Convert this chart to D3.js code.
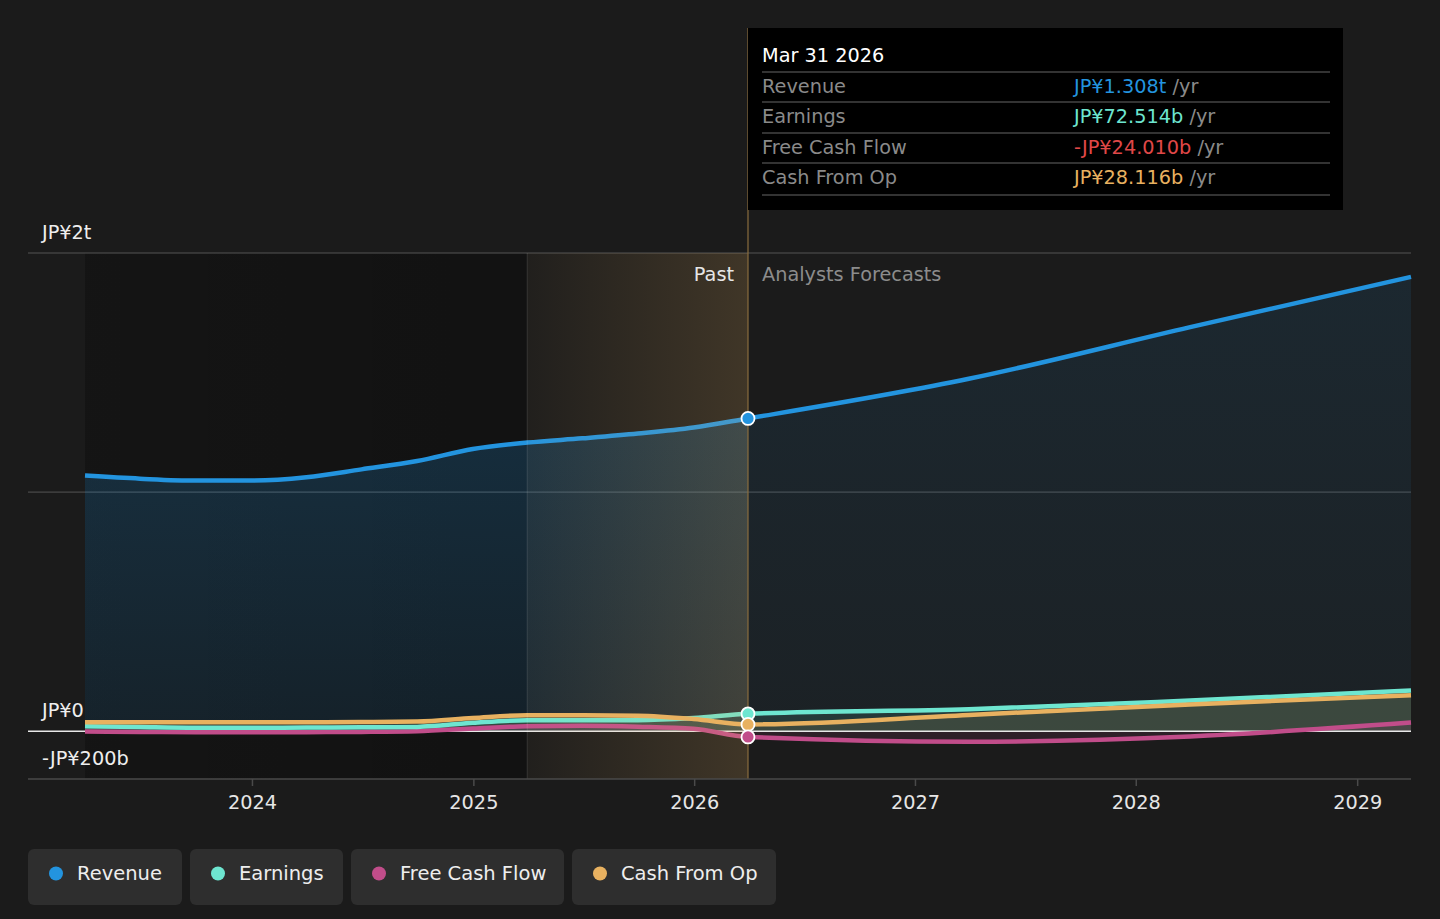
<!DOCTYPE html>
<html><head><meta charset="utf-8">
<script src="https://cdn.jsdelivr.net/npm/d3@7/dist/d3.min.js"></script>
<style>
html,body{margin:0;padding:0;background:#1b1b1b;}
svg{display:block;font-family:"DejaVu Sans",sans-serif;}
</style></head>
<body>
<svg id="chart" width="1440" height="919"></svg>
<script>
// ---- data ----
const dates = ["2023-03-31","2023-06-30","2023-09-30","2023-12-31","2024-03-31","2024-06-30","2024-09-30","2024-12-31","2025-03-31","2025-06-30","2025-09-30","2025-12-31","2026-03-31","2027-03-31","2028-03-31","2029-03-31"];
const revenue  = [1.069e12,1.056e12,1.048e12,1.048e12,1.062e12,1.095e12,1.13e12,1.18e12,1.207e12,1.225e12,1.245e12,1.27e12,1.308e12,1.474e12,1.69e12,1.90e12];
const earnings = [21e9,17e9,14e9,14e9,15e9,16e9,18e9,35e9,46e9,46e9,46e9,55e9,72.514e9,92e9,128e9,170e9];
const freeCashFlow = [-1e9,-3e9,-4e9,-4e9,-4e9,-3e9,0,11e9,21e9,23e9,19e9,10e9,-24.01e9,-44e9,-22e9,36e9];
const cashFromOp = [37e9,37e9,37e9,37e9,37e9,38e9,40e9,55e9,67e9,67e9,65e9,51e9,28.116e9,68e9,112e9,150e9];
const seriesNames = ["Revenue","Earnings","Free Cash Flow","Cash From Op"];
const seriesColors = ["#2394df","#6ee6d0","#c14d8a","#e8b160"];
const yTickValues = [-200e9, 0, 2e12];
const yTickLabels = ["-JP¥200b","JP¥0","JP¥2t"];
const xTickYears = [2024,2025,2026,2027,2028,2029];
const tooltipDate = "Mar 31 2026";
const tooltipValues = ["JP¥1.308t","JP¥72.514b","-JP¥24.010b","JP¥28.116b"];
const tooltipValueColors = ["#2394df","#6ee6d0","#e04848","#e8b160"];
const pastStart = "2025-03-31";
const nowDate = "2026-03-31";

// ---- setup ----
const parse = d3.timeParse("%Y-%m-%d");
const D = dates.map(parse);
const svg = d3.select("#chart");
const W = 1440, H = 919;
const pL = 28, pR = 1411, pT = 253, pB = 779;
const FS = 19.3;

const x = d3.scaleTime().domain([D[0], D[D.length-1]]).range([85, 1411]);
const y = d3.scaleLinear().domain([-200e9, 2e12]).range([779, 253]);
const xNow = x(parse(nowDate)), xPast = x(parse(pastStart));
const nowIdx = dates.indexOf(nowDate);

const defs = svg.append("defs");
function vgrad(id, stops, y1, y2){
  const g = defs.append("linearGradient").attr("id", id).attr("gradientUnits","userSpaceOnUse")
    .attr("x1",0).attr("x2",0).attr("y1",y1).attr("y2",y2);
  stops.forEach(s=>g.append("stop").attr("offset",s[0]).attr("stop-color",s[1]).attr("stop-opacity",s[2]));
}
vgrad("revPast", [[0,"#2394df",0.27],[1,"#2394df",0.11]], pT, y(0));
vgrad("revFut", [[0,"#2394df",0.11],[1,"#2394df",0.05]], pT, y(0));
const hg = defs.append("linearGradient").attr("id","hl").attr("x1",0).attr("x2",1).attr("y1",0).attr("y2",0);
hg.append("stop").attr("offset",0).attr("stop-color","#e8b160").attr("stop-opacity",0.03);
hg.append("stop").attr("offset",1).attr("stop-color","#e8b160").attr("stop-opacity",0.18);
const dg = defs.append("linearGradient").attr("id","darkp").attr("x1",0).attr("x2",1).attr("y1",0).attr("y2",0);
dg.append("stop").attr("offset",0).attr("stop-color","#000").attr("stop-opacity",0.25);
dg.append("stop").attr("offset",1).attr("stop-color","#000").attr("stop-opacity",0.35);
defs.append("clipPath").attr("id","clipPast").append("rect").attr("x",0).attr("y",0).attr("width",xNow).attr("height",H);
defs.append("clipPath").attr("id","clipFut").append("rect").attr("x",xNow).attr("y",0).attr("width",W-xNow).attr("height",H);

svg.append("rect").attr("width",W).attr("height",H).attr("fill","#1b1b1b");
// past dark region
svg.append("rect").attr("x",x(D[0])).attr("y",pT).attr("width",xPast-x(D[0])).attr("height",pB-pT).attr("fill","url(#darkp)");

// gridlines
[1e12, 2e12].forEach(v=>{
  svg.append("line").attr("x1",pL).attr("x2",pR).attr("y1",y(v)).attr("y2",y(v))
    .attr("stroke","#555").attr("stroke-width",1);
});

const allSeries = [revenue, earnings, freeCashFlow, cashFromOp];
const curve = d3.curveMonotoneX;

// revenue area
const revArea = d3.area().x((d,i)=>x(D[i])).y0(y(0)).y1(d=>y(d)).curve(curve);
svg.append("path").datum(revenue).attr("d",revArea).attr("fill","url(#revPast)").attr("clip-path","url(#clipPast)");
svg.append("path").datum(revenue).attr("d",revArea).attr("fill","url(#revFut)").attr("clip-path","url(#clipFut)");

// small series areas
[1,3,2].forEach(k=>{
  const a = d3.area().x((d,i)=>x(D[i])).y0(y(0)).y1(d=>y(d)).curve(curve);
  svg.append("path").datum(allSeries[k]).attr("d",a).attr("fill",seriesColors[k]).attr("fill-opacity",0.12);
});

// zero line
svg.append("line").attr("x1",pL).attr("x2",pR).attr("y1",y(0)).attr("y2",y(0))
  .attr("stroke","#e8e8e8").attr("stroke-width",1.5);

// lines
const drawOrder = [2,1,3,0];
drawOrder.forEach(k=>{
  const l = d3.line().x((d,i)=>x(D[i])).y(d=>y(d)).curve(curve);
  svg.append("path").datum(allSeries[k]).attr("d",l).attr("fill","none")
    .attr("stroke",seriesColors[k]).attr("stroke-width",4.5).attr("stroke-linecap","butt");
});

// past highlight overlay
svg.append("rect").attr("x",xPast).attr("y",pT).attr("width",xNow-xPast).attr("height",pB-pT).attr("fill","url(#hl)");
svg.append("line").attr("x1",xPast).attr("x2",xPast).attr("y1",pT).attr("y2",pB).attr("stroke","#fff").attr("stroke-opacity",0.12);
svg.append("line").attr("x1",xNow).attr("x2",xNow).attr("y1",28).attr("y2",pB).attr("stroke","#8a6d3e").attr("stroke-width",1.2);

// bottom axis
const xAxis = d3.axisBottom(x).tickValues(xTickYears.map(yr=>new Date(yr,0,1))).tickFormat(d3.timeFormat("%Y")).tickSize(7).tickSizeOuter(0);
const ax = svg.append("g").attr("transform",`translate(0,${pB})`).call(xAxis);
ax.select(".domain").remove();
svg.append("line").attr("x1",pL).attr("x2",pR).attr("y1",pB).attr("y2",pB).attr("stroke","#4a4a4a").attr("stroke-width",1.5);
ax.selectAll(".tick line").attr("stroke","#4a4a4a").attr("stroke-width",1.5);
ax.selectAll(".tick text").attr("fill","#e6e6e6").attr("font-size",FS).attr("dy","1.05em").attr("font-family","DejaVu Sans");

// y labels
yTickValues.forEach((v,i)=>{
  svg.append("text").attr("x",42).attr("y",y(v)-14).text(yTickLabels[i])
    .attr("fill","#eeeeee").attr("font-size",FS);
});

// Past / Forecast labels
svg.append("text").attr("x",xNow-14).attr("y",281).attr("text-anchor","end").text("Past").attr("fill","#e6e6e6").attr("font-size",FS);
svg.append("text").attr("x",xNow+14).attr("y",281).text("Analysts Forecasts").attr("fill","#8c8c8c").attr("font-size",FS);

// dots at now
[1,3,2,0].forEach(k=>{
  svg.append("circle").attr("cx",xNow).attr("cy",y(allSeries[k][nowIdx])).attr("r",6.5)
    .attr("fill",seriesColors[k]).attr("stroke","#fff").attr("stroke-width",1.8);
});

// tooltip
const tt = svg.append("g");
tt.append("rect").attr("x",xNow).attr("y",28).attr("width",1343-xNow).attr("height",182).attr("fill","#000");
tt.append("text").attr("x",762).attr("y",62).text(tooltipDate).attr("fill","#fff").attr("font-size",FS);
const rowY = [72,102,133,163,195];
rowY.forEach(ry=>tt.append("line").attr("x1",762).attr("x2",1330).attr("y1",ry).attr("y2",ry).attr("stroke","#444").attr("stroke-width",1.5));
seriesNames.forEach((n,i)=>{
  const by = rowY[i]+21;
  tt.append("text").attr("x",762).attr("y",by).text(n).attr("fill","#8a8a8a").attr("font-size",FS);
  const t = tt.append("text").attr("x",1074).attr("y",by).attr("font-size",FS);
  t.append("tspan").text(tooltipValues[i]).attr("fill",tooltipValueColors[i]);
  t.append("tspan").text(" /yr").attr("fill","#8a8a8a");
});

// legend
const legX = [28,190,351,572], legW = [154,153,213,204];
seriesNames.forEach((n,i)=>{
  const g = svg.append("g").attr("transform",`translate(${legX[i]},849)`);
  g.append("rect").attr("width",legW[i]).attr("height",56).attr("rx",6).attr("fill","#2e2e2e");
  g.append("circle").attr("cx",28).attr("cy",24.5).attr("r",7).attr("fill",seriesColors[i]);
  g.append("text").attr("x",49).attr("y",31).text(n).attr("fill","#eeeeee").attr("font-size",19.5);
});
</script>
</body></html>
